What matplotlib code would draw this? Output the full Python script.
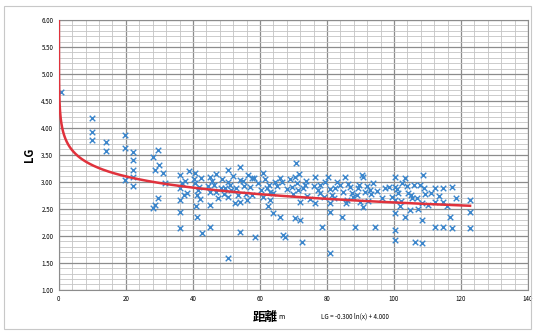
import numpy as np
import matplotlib
matplotlib.use('Agg')
from matplotlib import pyplot as plt
from matplotlib.ticker import MultipleLocator

plt.rcParams['font.family'] = ['Noto Sans CJK JP', 'DejaVu Sans']

# 散布データ (距離, LG) - 図から読み取り
dist = [0.5, 9.9, 9.9, 9.9, 14, 14, 19.7, 19.7, 22, 22, 22, 22, 19.7, 22,
        28, 29.6, 30, 31, 31.6, 28.7, 29.5, 28, 28.7,
        36.1, 36.1, 36.1, 36.1, 36.1, 37.5, 38.2, 38.8,
        40.6, 40.6, 41.2, 41.2, 42.7, 41.8, 42.3, 40.9,
        45, 45, 45, 45, 46.2, 46.8, 47.5, 48.3, 49.6,
        50.4, 50.4, 50.4, 50.4, 51.5, 52.1, 52.6,
        54, 54, 54, 54, 55.2, 55.8, 56.4,
        57.6, 57.6, 58.5, 59.4, 60.9, 62, 63, 63, 63.9, 61.5, 62.5, 64.5,
        66, 66, 66.9, 66.6, 67.5,
        70.7, 70.4, 71.3, 72, 70.4, 72.5, 72, 73.4, 74.1, 69.5, 71.8,
        76.4, 77.3, 76.4, 78.5, 77.8, 79.1,
        80.3, 80.9, 80.9, 82.4, 81.5, 83.1, 80.9,
        85.4, 86, 84.5, 85.7, 86.8, 87.4,
        88.4, 89, 90.4, 90.7, 90.7, 91.3, 92.2, 93.7, 94.3, 92.8, 89.6,
        96.5, 97.4,
        100.3, 100.3, 100.3, 100.3, 100.3, 100.3, 101.2, 101.8, 102.4,
        103.3, 103.3, 104.2, 104.8, 105.5, 106.3, 106.1,
        107.8, 108.4, 108.7, 108.4, 108.4, 109.3,
        112.2, 112.2, 112.2, 114.6, 114.6, 114.6, 116.7, 117.3, 117.3,
        122.7, 122.7, 122.7]
lg = [4.67, 4.19, 3.93, 3.78, 3.74, 3.57, 3.87, 3.63, 3.56, 3.41, 3.22, 3.09, 3.04, 2.93,
      3.46, 3.59, 3.31, 3.17, 2.98, 3.22, 2.70, 2.52, 2.57,
      3.13, 2.89, 2.67, 2.44, 2.15, 3.02, 2.80, 3.20,
      3.17, 2.98, 2.76, 2.35, 2.06, 2.90, 3.08, 2.55,
      3.09, 2.81, 2.57, 2.17, 2.95, 3.15, 2.70, 2.88, 2.89,
      3.22, 3.00, 2.72, 1.59, 2.85, 3.10, 2.60,
      3.28, 3.04, 2.63, 2.07, 2.92, 2.78, 3.12,
      3.07, 2.76, 1.98, 2.98, 3.17, 2.89, 2.67, 2.82, 2.43, 3.05, 2.55, 3.00,
      3.07, 2.35, 2.02, 3.00, 1.98,
      3.35, 3.09, 2.85, 2.63, 2.33, 1.89, 2.30, 2.95, 2.74, 2.90, 3.15,
      3.09, 2.85, 2.61, 2.17, 2.95, 2.72,
      3.09, 2.61, 1.69, 2.89, 2.75, 3.00, 2.45,
      3.09, 2.67, 2.35, 2.61, 2.90, 2.80,
      2.17, 2.76, 3.13, 3.09, 2.54, 2.81, 2.65, 2.98, 2.17, 2.85, 2.95,
      2.70, 2.88,
      3.09, 2.91, 2.67, 2.43, 2.11, 1.93, 2.80, 2.55, 2.98,
      2.35, 3.07, 2.80, 2.48, 2.70, 1.89, 2.95,
      2.94, 1.87, 3.13, 2.61, 2.30, 2.78,
      2.89, 2.63, 2.17, 2.89, 2.63, 2.17, 2.35, 2.91, 2.15,
      2.67, 2.44, 2.15]

# 密集部の追加点
dist2 = [36.8, 37.2, 40.2, 41.5, 42.0, 44.4, 45.6, 47.0, 48.8, 49.2, 51.0, 52.8,
         53.4, 55.0, 56.0, 57.0, 58.2, 60.2, 61.0, 62.8, 64.0, 65.2, 68.0, 69.0,
         70.0, 71.0, 72.8, 73.8, 75.0, 76.0, 78.0, 79.5, 81.0, 82.0, 83.8, 84.8,
         86.2, 87.8, 89.2, 90.0, 91.8, 93.0, 95.0, 98.5, 99.5, 101.0, 102.0,
         103.8, 105.0, 106.8, 107.2, 109.0, 110.0, 111.0, 113.4, 115.8, 118.5]
lg2 = [2.98, 2.75, 3.05, 2.85, 2.68, 2.92, 3.02, 2.82, 3.05, 2.78, 2.95, 2.88,
       2.75, 3.02, 2.66, 2.90, 3.08, 2.85, 2.72, 2.95, 2.80, 2.92, 2.86, 3.05,
       2.78, 2.98, 2.88, 3.02, 2.68, 2.92, 2.80, 3.00, 2.86, 2.70, 2.94, 2.82,
       2.96, 2.72, 2.88, 2.62, 2.92, 2.78, 2.84, 2.90, 2.72, 2.86, 2.64,
       2.92, 2.76, 2.70, 2.50, 2.88, 2.58, 2.80, 2.74, 2.55, 2.70]

# 近似曲線の係数
coef_a = -0.300
coef_b = 4.000

fig = plt.figure(figsize=(5.35, 3.32), dpi=100)
fig.patches.append(plt.Rectangle((0.008, 0.008), 0.984, 0.975, transform=fig.transFigure,
                                 fill=False, edgecolor='#c8c8c8', linewidth=0.8))
ax = fig.add_axes([0.110, 0.127, 0.877, 0.813])

ax.scatter(dist + dist2, lg + lg2, marker='x', color='#3b86cc', s=16, linewidths=1.0, zorder=3)

xs = np.geomspace(0.001, 122.7, 400)
ax.plot(xs, coef_a * np.log(xs) + coef_b, color='#e0323c', linewidth=1.8, zorder=4)

ax.set_xlim(0, 140)
ax.set_ylim(1.0, 6.0)
ax.xaxis.set_major_locator(MultipleLocator(20))
ax.xaxis.set_minor_locator(MultipleLocator(4))
ax.yaxis.set_major_locator(MultipleLocator(0.5))
ax.yaxis.set_minor_locator(MultipleLocator(0.1))
ax.yaxis.set_major_formatter(plt.FormatStrFormatter('%.2f'))
ax.grid(which='major', color='#8c8c8c', linewidth=0.9)
ax.grid(which='minor', color='#c4c4c4', linewidth=0.6)
ax.set_axisbelow(True)
ax.tick_params(which='both', length=0, labelsize=4.5, pad=4)
for s in ax.spines.values():
    s.set_color('#8c8c8c')
    s.set_linewidth(0.8)

fig.text(0.055, 0.535, 'LG', rotation=90, fontsize=8, fontweight='bold', ha='center', va='center')
fig.text(0.520, 0.045, '距離', fontsize=9, fontweight='bold', ha='right', va='center')
fig.text(0.521, 0.045, 'm', fontsize=5, ha='left', va='center')
fig.text(0.600, 0.045, 'LG = -0.300 ln(x) + 4.000', fontsize=4.5, ha='left', va='center')

fig.savefig('out.png', dpi=100)
